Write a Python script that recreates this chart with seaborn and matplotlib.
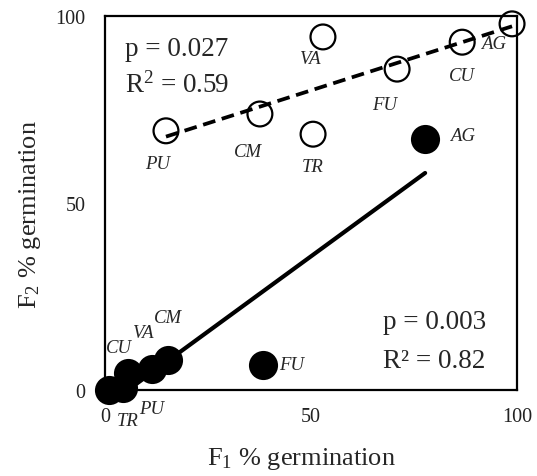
import matplotlib
matplotlib.use("Agg")
import matplotlib.pyplot as plt
import seaborn as sns
import pandas as pd

# ---- data ----
labels_f2 = ["PU", "CM", "TR", "VA", "FU", "CU", "AG"]
f1_open = [14.8, 37.6, 50.5, 52.9, 70.9, 86.7, 98.8]
f2_open = [69.3, 73.8, 68.4, 94.4, 85.8, 93.0, 97.9]

labels_f1 = ["TR", "PU", "CU", "VA", "CM", "FU", "AG"]
f1_filled = [1.0, 4.4, 5.6, 11.4, 15.3, 38.3, 77.7]
f2_filled = [0.0, 0.5, 4.5, 5.5, 8.0, 6.7, 67.1]

stats_open = ["p = 0.027", "R$^2$ = 0.59"]
stats_filled = ["p = 0.003", "R\u00b2 = 0.82"]

x_ticks = [0, 50, 100]
y_ticks = [0, 50, 100]

df_open = pd.DataFrame({"F1": f1_open, "F2": f2_open, "lab": labels_f2})
df_filled = pd.DataFrame({"F1": f1_filled, "F2": f2_filled, "lab": labels_f1})

# ---- style ----
sns.set_theme(style="white")
plt.rcParams["font.family"] = ["Liberation Serif", "DejaVu Serif"]
plt.rcParams["mathtext.fontset"] = "custom"
plt.rcParams["mathtext.rm"] = "Liberation Serif"
plt.rcParams["mathtext.it"] = "Liberation Serif:italic"

fig = plt.figure(figsize=(5.37, 4.77), dpi=100)
ax = fig.add_axes([105 / 537, 86 / 477, 412 / 537, 374 / 477])

# regression lines
sns.regplot(data=df_open, x="F1", y="F2", scatter=False, ci=None, ax=ax,
            line_kws=dict(color="black", lw=2.7, linestyle=(0, (3.4, 1.8)),
                          solid_capstyle="butt", dash_capstyle="butt", zorder=2))
sns.regplot(data=df_filled, x="F1", y="F2", scatter=False, ci=None, ax=ax,
            line_kws=dict(color="black", lw=3.0, zorder=2))

# points
sns.scatterplot(data=df_open, x="F1", y="F2", ax=ax, s=320, marker="o",
                facecolor="none", edgecolor="black", linewidth=1.6,
                clip_on=False, zorder=3)
sns.scatterplot(data=df_filled, x="F1", y="F2", ax=ax, s=440, marker="o",
                color="black", edgecolor="black", linewidth=0,
                clip_on=False, zorder=3)

# point labels (offsets in pixels)
off_open = [(-8, -33), (-12, -38), (0, -32), (-13, -22), (-12, -35), (0, -33), (-19, -20)]
off_filled = [(19, -31), (28, -20), (-9, 26), (-9, 37), (0, 43), (29, 0), (37, 4)]
for (x, y, t), (dx, dy) in zip(zip(f1_open, f2_open, labels_f2), off_open):
    ax.annotate(t, (x, y), xytext=(dx, dy), textcoords="offset pixels",
                ha="center", va="center", fontsize=13.5, style="italic",
                annotation_clip=False, zorder=4)
for (x, y, t), (dx, dy) in zip(zip(f1_filled, f2_filled, labels_f1), off_filled):
    ax.annotate(t, (x, y), xytext=(dx, dy), textcoords="offset pixels",
                ha="center", va="center", fontsize=13.5, style="italic",
                annotation_clip=False, zorder=4)

# statistics
ax.text(4.9, 91.4, stats_open[0], fontsize=19.5, ha="left", va="center")
ax.text(4.9, 81.8, stats_open[1], fontsize=19.5, ha="left", va="center")
ax.text(67.5, 18.4, stats_filled[0], fontsize=19.5, ha="left", va="center")
ax.text(67.5, 7.8, stats_filled[1], fontsize=19.5, ha="left", va="center")

# axes
ax.set_xlim(0, 100)
ax.set_ylim(0, 100)
ax.set_xticks(x_ticks)
ax.set_yticks(y_ticks)
ax.set_xticklabels([str(v) for v in x_ticks])
ax.set_yticklabels([str(v) for v in y_ticks])
ax.tick_params(axis="both", direction="in", length=5, width=1.2, color="black",
               labelsize=14.5, labelcolor="#222222")
ax.tick_params(axis="x", pad=12)
ax.tick_params(axis="y", pad=14)
for sp in ax.spines.values():
    sp.set_visible(True)
    sp.set_color("black")
    sp.set_linewidth(1.6)
    sp.set_zorder(2.5)

ax.set_xlabel("F$_1$ % germination", fontsize=19, labelpad=14)
ax.set_ylabel("F$_2$ % germination", fontsize=19, labelpad=9)
ax.xaxis.label.set_x(0.476)
ax.yaxis.label.set_y(0.473)

fig.savefig("out.png", dpi=100)
